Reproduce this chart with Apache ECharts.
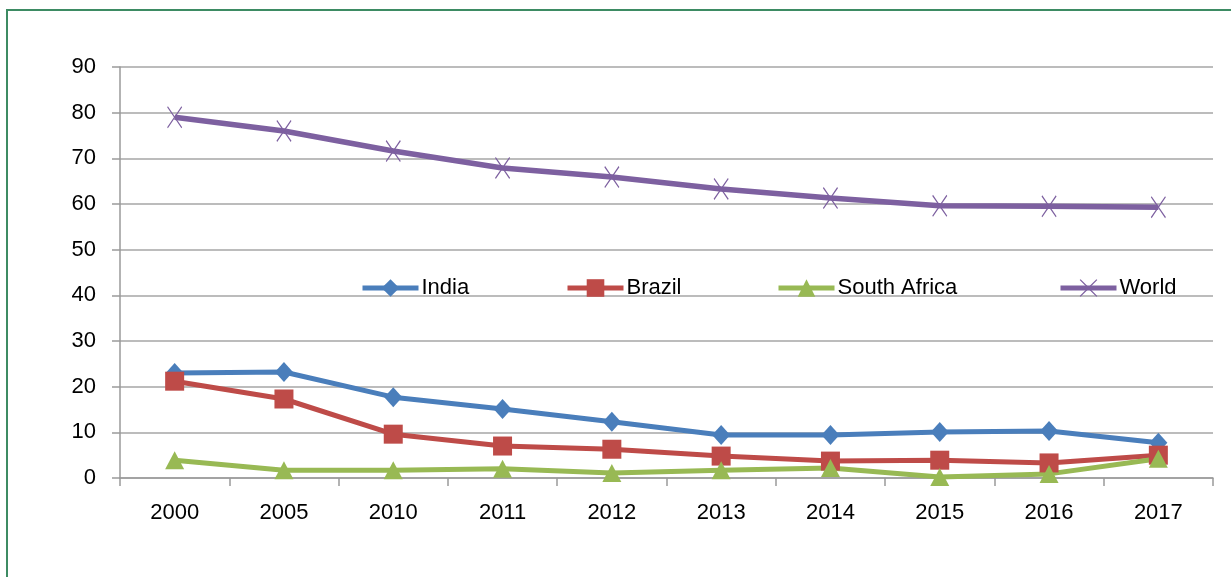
<!DOCTYPE html>
<html>
  <head>
    <meta charset="utf-8" />
    <script src="https://cdn.jsdelivr.net/npm/echarts@6/dist/echarts.min.js"></script>
    <style>
      html, body { margin: 0; padding: 0; background: #fff; }
      #frame { position: absolute; left: 6px; top: 9px; width: 1240px; height: 600px; border: 2px solid #3d8b63; box-sizing: border-box; }
    </style>
  </head>
  <body>
    <div id="frame"></div>
    <div id="main" style="position:absolute;left:0;top:0;width:1231px;height:577px;"></div>
    <script type="text/javascript">
      // years on the x axis
      var years = ['2000', '2005', '2010', '2011', '2012', '2013', '2014', '2015', '2016', '2017'];
      var india = [23.0, 23.2, 17.7, 15.1, 12.3, 9.4, 9.4, 10.1, 10.3, 7.7];
      var brazil = [21.2, 17.3, 9.6, 7.0, 6.3, 4.8, 3.7, 3.9, 3.3, 5.0];
      var southAfrica = [3.9, 1.7, 1.7, 2.0, 1.1, 1.7, 2.2, 0.2, 0.9, 4.2];
      var world = [79.0, 76.0, 71.6, 67.9, 65.9, 63.3, 61.3, 59.6, 59.5, 59.3];

      var font = 'Liberation Sans';
      var xMark = 'path://M0,1 L1,0 L10,9 L19,0 L20,1 L11,10 L20,19 L19,20 L10,11 L1,20 L0,19 L9,10 Z';

      function mkLegend(name, left) {
        return {
          data: [name],
          left: left,
          top: 272,
          itemWidth: 56,
          itemHeight: 22,
          lineStyle: { width: 5 },
          textStyle: { fontFamily: font, fontSize: 22, color: '#000', padding: [0, 0, 0, -2] }
        };
      }

      var myChart = echarts.init(document.getElementById('main'));
      var option = {
        animation: false,
        legend: [
          mkLegend('India', 355),
          mkLegend('Brazil', 560),
          mkLegend('South Africa', 771),
          mkLegend('World', 1053)
        ],
        grid: { left: 120, right: 18, top: 67, bottom: 99 },
        xAxis: {
          type: 'category',
          data: years,
          boundaryGap: true,
          axisLine: { lineStyle: { color: '#9a9a9a', width: 1.5 } },
          axisTick: { show: true, length: 8, lineStyle: { color: '#9a9a9a', width: 1.5 } },
          axisLabel: { fontFamily: font, fontSize: 22, color: '#000', margin: 24 }
        },
        yAxis: {
          type: 'value',
          min: 0,
          max: 90,
          interval: 10,
          axisLine: { show: true, lineStyle: { color: '#9a9a9a', width: 1.5 } },
          axisTick: { show: true, length: 8, lineStyle: { color: '#9a9a9a', width: 1.5 } },
          splitLine: { lineStyle: { color: '#a6a6a6', width: 1.5 } },
          axisLabel: { fontFamily: font, fontSize: 22, color: '#000', margin: 24 }
        },
        series: [
          {
            name: 'India', type: 'line', data: india,
            symbol: 'diamond', symbolSize: [18, 20],
            lineStyle: { color: '#4a7ebb', width: 5 },
            itemStyle: { color: '#4a7ebb' }
          },
          {
            name: 'Brazil', type: 'line', data: brazil,
            symbol: 'rect', symbolSize: 19,
            lineStyle: { color: '#be4b48', width: 5 },
            itemStyle: { color: '#be4b48' }
          },
          {
            name: 'South Africa', type: 'line', data: southAfrica,
            symbol: 'triangle', symbolSize: [19, 18],
            lineStyle: { color: '#98b954', width: 5 },
            itemStyle: { color: '#98b954' }
          },
          {
            name: 'World', type: 'line', data: world,
            symbol: xMark, symbolSize: [15, 22],
            lineStyle: { color: '#7d60a0', width: 5.5 },
            itemStyle: { color: '#7d60a0' }
          }
        ]
      };
      myChart.setOption(option);
    </script>
  </body>
</html>
